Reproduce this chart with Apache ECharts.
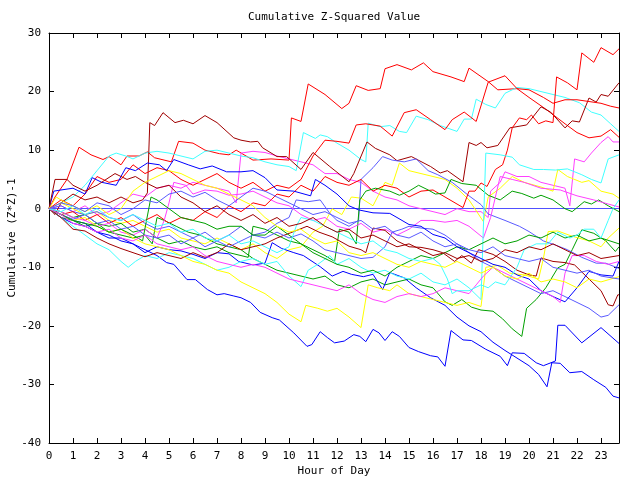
<!DOCTYPE html>
<html><head><meta charset="utf-8">
<script src="https://cdn.jsdelivr.net/npm/echarts@6/dist/echarts.min.js"></script>
<style>html,body{margin:0;padding:0;background:#fff}#c{width:640px;height:480px}</style>
</head><body><div id="c"></div>
<script>
// Hour of day (x) vs cumulative (Z*Z)-1 (y), vertices
const hourLabels = [0,1,2,3,4,5,6,7,8,9,10,11,12,13,14,15,16,17,18,19,20,21,22,23];
const yTickValues = [-40,-30,-20,-10,0,10,20,30];

const r1 = [[0,0],[0.25,2],[0.75,5],[1.25,10.5],[1.75,9.2],[2.25,8.4],[2.5,8.9],[3,7.5],[3.25,9],[3.75,9],[4.1,9.7],[4.4,8.7],[5.1,8],[5.4,11.5],[6,11.2],[6.5,10],[7.1,9.4],[7.5,9.2],[7.8,10],[8.5,8.3],[9.25,8.5],[10,8.3],[10.1,15.5],[10.5,14.9],[10.8,21.3],[11.5,19.5],[12.2,17.1],[12.5,18],[12.8,21],[13.3,20.2],[13.8,20.5],[14,23.9],[14.5,24.6],[15.1,23.7],[15.6,24.9],[16,23.4],[16.75,22.5],[17.3,21.7],[17.5,24],[18.3,21.7],[18.7,20.3],[19.5,20.5],[20,19],[20.7,17],[21.5,14.5],[22,13],[22.5,12.1],[23,12.4],[23.4,13.5],[23.75,12.2]];
const r2 = [[0,0],[0.5,-1],[1,-0.5],[1.5,-2],[2,-1],[2.5,-2.5],[3,-1.5],[3.5,-3],[4,-2],[4.5,-1],[5,-2.5],[5.5,-1.5],[6,-2],[6.5,-0.5],[7,-1.5],[7.5,0.5],[8,-0.5],[8.5,1],[9,0.5],[9.5,2.5],[10,2],[10.5,4],[11,3],[11.5,5.5],[12,4.5],[12.5,4],[13,5],[13.5,3],[14,4],[14.5,3.5],[15,2],[15.5,3],[16,3.2],[16.5,2],[17,0.8],[17.25,0.2],[17.5,3],[17.75,3],[18,4.4],[18.25,3.8],[18.6,6.7],[18.9,7.5],[19.1,10],[19.3,13.8],[19.6,15.5],[19.9,15.2],[20.1,16],[20.4,14.5],[20.7,15],[21,14.7],[21.15,22.5],[21.6,21.5],[22,20.3],[22.2,26.6],[22.7,25],[23,27.5],[23.5,26.3],[23.75,27.3]];
const r3 = [[0,0],[0.5,1.5],[1,0.5],[1.5,2.5],[2,5.5],[2.5,4.5],[3,5],[3.5,7.5],[4,6],[4.5,7],[5,6.5],[5.5,5],[6,4],[6.5,5],[7,6],[7.5,4.5],[8,3.5],[8.5,4.5],[9,3],[9.5,4],[10,3.5],[10.5,5],[11,9],[11.5,11.7],[12,11.5],[12.5,11.2],[12.8,14.3],[13.2,14.5],[13.8,14.1],[14.3,12.4],[14.8,16.4],[15.3,16.9],[15.9,15.2],[16.5,13.5],[16.8,15.2],[17.3,16.5],[17.8,14.9],[18.3,21.6],[19,22.7],[19.5,20.5],[20,20.3],[20.6,19],[21,18],[21.5,18.6],[22,18.6],[22.5,18.3],[23,18],[23.4,17.5],[23.75,17.2]];
const d1 = [[0,0],[0.25,-1],[0.5,1],[1,2.5],[1.5,1.5],[2,2],[2.5,1],[3,2],[3.5,1],[3.9,1.5],[4.1,2.7],[4.2,14.7],[4.4,14.2],[4.75,16.4],[5.25,14.7],[5.6,15.1],[6,14.5],[6.5,15.9],[7,14.7],[7.7,12.1],[8,11.7],[8.4,11.4],[8.7,11.5],[8.9,10.4],[9.5,8.9],[9.9,8.9],[10.5,6.7],[11,9.6],[11.7,7.2],[12.5,4.6],[12.7,6],[13.25,11.4],[13.6,10.3],[14.2,9.2],[14.5,8.2],[15.1,8.9],[15.9,7.2],[16.3,6.1],[16.6,6.5],[17.25,4.6],[17.5,11.3],[17.8,10.8],[18,11.3],[18.25,10.4],[18.7,10.8],[19.2,13.8],[19.9,14.3],[20.5,17.4],[20.9,16.5],[21.5,13.8],[21.8,15],[22.1,14.8],[22.5,18.9],[22.8,18.2],[23,19.5],[23.3,19.2],[23.75,21.5]];
const d2 = [[0,0],[0.5,-1.5],[1,-3.5],[1.5,-3.8],[2,-5],[2.5,-6],[3,-6.8],[3.5,-7.5],[4,-8.2],[4.5,-7.5],[5,-8],[5.5,-8.5],[6,-7.5],[6.5,-8.3],[7,-7.5],[7.5,-6],[8,-7],[8.5,-6.5],[9,-6],[9.5,-5],[10.2,-3.9],[10.75,-3],[11.25,-4],[11.8,-4.8],[12.5,-6.4],[13,-7],[13.2,-7.5],[13.5,-3.3],[14,-3.7],[14.5,-5.5],[15,-6.5],[15.5,-6.6],[16,-7],[16.4,-7.5],[16.9,-9],[17.2,-8],[17.6,-9.3],[17.9,-7],[18.5,-7.8],[19,-9],[19.5,-10.5],[20,-11.3],[20.3,-11.5],[20.5,-8.4],[21,-9],[21.5,-9.2],[21.9,-9.6],[22.5,-12],[23,-14],[23.3,-16.4],[23.5,-16.6],[23.7,-14.7],[23.75,-14.7]];
const d3 = [[0,0],[0.25,5],[0.75,5],[1,4],[1.5,3],[2,4],[2.75,6],[3.25,5],[3.6,5.5],[4,4.5],[4.5,3.5],[5,4],[5.5,2],[6,1],[6.5,-0.5],[7,0.5],[7.5,-1],[8,-2],[8.5,-1],[9,-2.5],[9.5,-1.5],[10,-3],[10.5,-2.5],[11,-1.5],[11.5,-3],[12,-4],[12.5,-3.5],[13,-5],[13.5,-4.5],[14,-5.5],[14.5,-6.5],[15,-6],[15.5,-7],[16,-8],[16.5,-7.5],[17,-8.5],[17.5,-8],[18,-9],[18.5,-8.5],[19,-7],[19.5,-7.5],[20,-6.5],[20.5,-7],[21,-6],[21.5,-7],[22,-8],[22.5,-7.5],[23,-8.5],[23.75,-8]];
const b1 = [[0,0],[0.5,-1.5],[1,-2.5],[1.5,-3],[2,-4],[2.5,-4.5],[3,-5.5],[3.5,-6],[4,-7],[4.5,-8],[4.9,-9.2],[5.2,-9.5],[5.75,-12.1],[6.1,-12.1],[6.6,-13.8],[7,-14.7],[7.3,-14.5],[7.7,-14.9],[8,-15.2],[8.4,-16],[8.8,-17.7],[9.3,-18.6],[9.6,-19],[10.2,-21.2],[10.75,-23.5],[10.95,-23.2],[11.3,-21],[11.6,-22],[11.9,-22.9],[12.3,-22.6],[12.7,-21.5],[12.95,-21.8],[13.2,-22.7],[13.5,-20.6],[13.75,-21.2],[14,-22.5],[14.3,-21],[14.6,-21.8],[15,-23.7],[15.4,-24.4],[15.9,-25.1],[16.2,-25.3],[16.5,-26.9],[16.75,-20.8],[17.25,-22.4],[17.6,-22.5],[18.2,-24],[18.8,-25.2],[19.1,-26.8],[19.3,-24.6],[19.8,-24.7],[20.3,-26.3],[20.6,-26.8],[21.1,-26],[21.2,-19.9],[21.5,-19.9],[22.2,-22.9],[23,-20.3],[23.75,-23]];
const b2 = [[0,0],[0.5,-1],[1,-2],[1.5,-2.5],[2,-4],[2.5,-5],[3,-5],[3.5,-6],[4,-7.5],[4.5,-6.5],[5,-7],[5.5,-7.2],[6,-7.8],[6.5,-8.5],[7,-7.5],[7.5,-7.7],[7.9,-9],[8.5,-9.6],[9,-9.3],[9.3,-5.8],[9.7,-6.8],[10.2,-7.5],[10.6,-8],[11.3,-9.9],[11.8,-11.5],[12.25,-10.7],[12.6,-11.2],[13.1,-11.6],[13.5,-11.2],[13.9,-13.8],[14.2,-10.9],[14.8,-11.8],[15.3,-13.5],[15.9,-15.2],[16.5,-16.5],[17,-18.5],[17.5,-20],[18,-21],[18.5,-22.8],[19,-24.2],[19.5,-25.5],[20,-26.8],[20.4,-28.3],[20.75,-30.4],[20.95,-26.3],[21.3,-26.4],[21.7,-28],[22.2,-27.8],[22.7,-29.2],[23.2,-30.5],[23.5,-32],[23.75,-32.3]];
const b3 = [[0,0],[0.2,3],[0.5,3.2],[1,3.5],[1.5,2.5],[1.8,5.3],[2.2,4.5],[2.8,4],[3.2,7],[3.6,6.5],[4.1,7.8],[4.6,7.5],[4.9,6.5],[5.2,8.4],[5.8,7.5],[6.3,6.8],[6.8,7.3],[7.4,6.3],[8,6.3],[8.5,6.5],[9,5.3],[9.5,3.2],[10.2,3],[10.9,2.2],[11.1,5],[11.5,4],[12,2.5],[12.5,0.5],[12.9,-0.2],[13.5,-0.7],[14.2,-0.8],[14.5,-1.5],[15,-2.7],[15.5,-3],[16,-4.4],[16.5,-5],[17,-6.5],[17.5,-7.5],[18,-8.5],[18.5,-9.5],[19,-10],[19.5,-11.3],[20,-12],[20.5,-14],[21,-15],[21.5,-15.9],[22,-13.5],[22.5,-10.7],[23,-11.3],[23.5,-11.5],[23.75,-9]];
const p1 = [[0,0],[0.5,0.5],[1,-0.5],[1.5,-1],[2,-0.5],[2.5,-1.5],[3,-2],[3.5,-1],[4,-2.5],[4.5,-3.5],[5,-3],[5.5,-4],[6,-5],[6.5,-4],[7,-5.5],[7.5,-4.5],[8,-3],[8.5,-4.5],[9,-4],[9.5,-2.5],[10,-1.5],[10.3,1.5],[10.8,1.2],[11.3,1.5],[11.7,-0.8],[12,-2],[12.5,-3],[12.9,-2],[13,5],[13.5,7],[13.9,8.9],[14.3,8.3],[14.8,8],[15.3,8.5],[15.8,6.5],[16.2,5.8],[16.8,4.5],[17.5,2.2],[18,0.7],[18.3,-0.9],[19,-2],[19.6,-3],[20,-3.9],[20.6,-5.5],[21.1,-6.2],[21.6,-7],[22.2,-8.3],[22.8,-9.3],[23.2,-9.3],[23.75,-10.2]];
const p2 = [[0,0],[0.5,-1],[1,-1.8],[1.5,-1],[2,-2.5],[2.5,-2],[3,-3.5],[3.5,-3],[4,-4.5],[4.5,-5],[5,-4.5],[5.5,-6],[6,-5],[6.5,-6.5],[7,-5.5],[7.5,-6.5],[8,-5.5],[8.5,-4.5],[9,-5],[9.5,-4],[10,-5],[10.5,-4.3],[11,-5.5],[11.5,-7],[12,-7.5],[12.5,-8],[13,-8.5],[13.5,-8.3],[14,-6.5],[14.3,-4],[14.7,-3.5],[15,-3],[15.5,-3.3],[16,-3.5],[16.5,-4.5],[17,-6],[17.5,-7.5],[18,-9],[18.5,-10],[19,-11.5],[19.5,-12.5],[20,-13.5],[20.5,-14.5],[21,-14],[21.5,-15],[22,-16],[22.5,-17],[23,-18.5],[23.3,-18.2],[23.75,-16.4]];
const p3 = [[0,0],[0.5,1],[1,0.5],[1.5,-0.5],[2,1],[2.5,0.5],[3,-1],[3.5,0],[4,1.5],[4.5,1],[5,2.5],[5.5,3],[6,2],[6.5,2.8],[7,1.5],[7.5,0.5],[8,2],[8.5,3.5],[9,3],[9.5,2],[10,1],[10.5,0],[11,-1],[11.5,-0.5],[12,-1.5],[12.5,-2.5],[13,-2],[13.5,-3.5],[14,-3],[14.5,-4.5],[15,-5],[15.5,-4],[16,-5.5],[16.5,-6.5],[17,-6],[17.5,-7],[18,-7.5],[18.5,-6.5],[19,-8],[19.5,-8.5],[20,-9],[20.5,-8.5],[21,-10],[21.5,-10.5],[22,-11],[22.5,-10.5],[23,-11.5],[23.75,-12]];
const g1 = [[0,0],[0.5,-1.5],[1,-2],[1.5,-3],[2,-2.5],[2.5,-4],[3,-4.5],[3.5,-5],[4,-4.5],[4.3,-6],[4.5,-1.5],[4.8,-2],[5.3,-3],[5.8,-4],[6.3,-4.5],[7,-6],[7.5,-6.5],[8,-7],[8.5,-8.5],[9,-9.5],[9.5,-10.5],[10,-11],[10.5,-11.5],[11,-12],[11.5,-11.5],[12,-13],[12.5,-13.5],[13,-12.5],[13.5,-12],[14,-13],[14.5,-12.5],[15,-12],[15.5,-13],[16,-13.5],[16.5,-15.9],[16.8,-16.5],[17.2,-15.5],[17.6,-16.8],[18,-17.3],[18.5,-17.5],[18.9,-18.8],[19.3,-20.5],[19.7,-21.8],[19.9,-17],[20.3,-15.5],[20.7,-13.5],[21.2,-10.1],[21.5,-9.5],[21.8,-7],[22.2,-3.6],[22.7,-4.2],[23.2,-5.5],[23.6,-7.3],[23.75,-6.5]];
const g2 = [[0,0],[0.5,-0.5],[1,-1.5],[1.5,-1],[2,-2.5],[2.5,-3],[3,-2.5],[3.5,-4],[4,-3.5],[4.5,-5],[5,-6],[5.5,-5.5],[6,-6.5],[6.5,-7],[7,-6.5],[7.5,-7.5],[8,-8],[8.3,-8.3],[8.5,-3],[9,-3.5],[9.5,-4.5],[10,-5.5],[10.5,-6],[11,-7],[11.5,-8],[11.9,-9],[12.1,-3.5],[12.5,-4],[12.8,-6],[12.95,1.5],[13.2,3],[13.6,3.5],[14.2,3],[14.6,2.3],[15,3],[15.4,4],[15.8,3.2],[16.1,2.5],[16.5,2.7],[16.75,5],[17.2,4.3],[17.8,4],[18.3,2.3],[18.8,1.5],[19.3,3],[19.7,2.6],[20.2,1.8],[20.5,2.3],[21,1.5],[21.5,0],[21.8,-0.5],[22.3,1.2],[22.6,0.8],[22.9,1.5],[23.3,0.5],[23.75,-0.5]];
const g3 = [[0,0],[0.5,-1],[1,-2],[1.5,-2.5],[2,-3],[2.5,-4],[3,-3.5],[3.5,-4.5],[3.9,-5.5],[4.25,2],[4.5,1.5],[5,0],[5.5,-1.5],[6,-2],[6.5,-2.5],[7,-3.5],[7.5,-3],[8,-3],[8.5,-4.5],[9,-4.5],[9.5,-3],[10,-4.5],[10.5,-6],[11,-7.5],[11.5,-8.5],[12,-9.5],[12.5,-10],[13,-11],[13.5,-10.5],[14,-11.5],[14.5,-10],[15,-9],[15.5,-8],[16,-8.5],[16.5,-7.5],[17,-6.5],[17.5,-7],[18,-6],[18.5,-5],[19,-6],[19.5,-5.5],[20,-4.5],[20.5,-5],[21,-4],[21.5,-5],[22,-4.5],[22.5,-5.5],[23,-5],[23.75,-6]];
const y1 = [[0,0],[0.5,1],[1,0],[1.5,-1],[2,-0.5],[2.5,-2],[3,-2.5],[3.5,-2],[4,-3],[4.5,-4],[5,-3.5],[5.5,-5],[6,-5.5],[6.5,-6],[7,-5],[7.5,-6],[8,-7],[8.5,-6],[9,-7.5],[9.5,-8.5],[10,-7],[10.5,-6.5],[11,-4],[11.4,-3],[11.8,0],[12.2,-1],[12.6,2],[13,1.8],[13.5,0.5],[14,4.5],[14.3,4],[14.6,7.8],[15,6.5],[15.5,6],[16,5.5],[16.5,5],[17,3.5],[17.5,1.5],[18.1,-2.2],[18.3,2],[18.8,3.5],[19.3,5.5],[19.8,4.5],[20.5,3.7],[21,3],[21.2,6.7],[21.6,5.5],[22.2,4.5],[22.5,4.8],[23,3],[23.5,2.5],[23.75,1.8]];
const y2 = [[0,0],[0.5,-1],[1,-2],[1.5,-1.5],[2,-3],[2.5,-4],[3,-3.5],[3.5,-5],[4,-6],[4.5,-6.5],[5,-7],[5.5,-8],[6,-9],[6.5,-9.5],[7,-10.5],[7.5,-11],[8,-12.5],[8.5,-13.5],[9,-14.5],[9.5,-16],[10,-18],[10.5,-19.3],[10.7,-16.5],[11.2,-17],[11.6,-17.5],[12,-17],[12.5,-18.5],[13,-20.3],[13.3,-13],[13.7,-13.5],[14.2,-14],[14.5,-13],[15,-14.5],[15.5,-15],[16,-15.5],[16.5,-16],[17,-16.5],[17.5,-16],[18,-16.7],[18.2,-10],[18.7,-9.7],[19.2,-11],[19.8,-11.3],[20.4,-12],[20.6,-8.5],[20.8,-3.9],[21.2,-3.8],[21.8,-4.7],[22.5,-5.5],[23,-6.5],[23.3,-5],[23.75,-3.3]];
const y3 = [[0,0],[0.3,2],[0.7,1],[1,0.5],[1.5,-0.5],[2,0.5],[2.5,-1],[3,0],[3.5,3],[4,4.5],[4.5,5.5],[5,6.5],[5.5,6],[6,5],[6.5,4],[7,3.5],[7.5,2.5],[8,1.5],[8.5,0.5],[9,-1.5],[9.5,-3],[10,-4],[10.5,-3.5],[11,-5],[11.5,-6],[12,-5.5],[12.5,-7.5],[13,-8],[13.5,-7.5],[14,-8.5],[14.5,-9.5],[15,-10],[15.5,-9],[16,-9.5],[16.5,-10],[17,-9],[17.5,-10],[18,-11],[18.5,-10],[19,-11.5],[19.5,-12],[20,-11],[20.5,-12.5],[21,-12],[21.5,-12.5],[22,-13.5],[22.5,-12],[23,-12.5],[23.75,-11.6]];
const m1 = [[0,0],[0.5,0.5],[1,-0.5],[1.5,0.5],[2,-1],[2.5,-0.5],[3,1],[3.5,2.5],[4,2],[4.5,3.5],[5,4],[5.5,3.5],[6,4.5],[6.5,4],[7,3.5],[7.5,3],[7.8,1],[8,9.5],[8.5,9.8],[9,9.6],[9.5,9],[10,8.5],[10.5,8],[11,7.5],[11.5,6],[12,6],[12.5,5],[13,4.5],[13.5,3],[14,2],[14.5,1.5],[15,0.5],[15.5,0],[16,-0.5],[16.5,-1],[17,0],[17.5,-0.5],[18,-0.5],[18.3,-1.5],[18.4,3],[18.8,4.5],[19,6.3],[19.5,5.5],[20,5.5],[20.5,4.5],[21,4],[21.5,3.5],[21.7,0.5],[21.9,8.5],[22.3,8],[22.6,9.5],[23,11.3],[23.3,12.3],[23.5,11.4],[23.75,11.4]];
const m2 = [[0,0],[0.5,-0.5],[1,-1.5],[1.5,-2],[2,-3],[2.5,-2.5],[3,-4],[3.5,-4.5],[4,-3.5],[4.5,-5],[4.8,-2],[5,1],[5.2,4.5],[5.7,4],[6,2.5],[6.5,3.2],[7,3],[7.5,2.3],[8,2.5],[8.5,3],[9,2],[9.5,1],[10,0.5],[10.5,-1],[11,-2],[11.5,-1.5],[12,-3],[12.5,-3.5],[13,-2.5],[13.5,-4],[14,-3.5],[14.5,-4.5],[15,-3.5],[15.5,-2],[16,-2],[16.5,-2.3],[17,-2],[17.5,-3],[18.1,-5],[18.4,-1.5],[18.8,5.5],[19.3,5],[19.8,4.5],[20.5,3.5],[21.3,3.2],[22,2.2],[22.7,1.5],[23.3,0.8],[23.75,0.3]];
const m3 = [[0,0],[0.5,-1],[1,-2.5],[1.5,-3],[2,-4],[2.5,-3.5],[3,-5],[3.5,-5.5],[4,-4.5],[4.5,-6],[5,-6.5],[5.5,-7],[6,-6.5],[6.5,-8],[7,-9],[7.5,-9.5],[8,-10],[8.5,-9.5],[9,-10],[9.5,-11],[10,-12],[10.5,-12.5],[11,-13],[11.5,-13.5],[12,-14],[12.5,-13],[13,-14.5],[13.5,-15.5],[14,-16],[14.5,-15],[15,-14.5],[15.5,-15],[16,-14.5],[16.5,-13.5],[17,-14],[17.5,-14.5],[17.8,-13],[18.1,-11.5],[18.5,-10],[19,-11],[19.5,-12],[20,-13],[20.5,-14],[21,-15],[21.3,-16],[21.5,-11],[21.8,-8],[22.3,-8],[22.8,-9],[23.3,-9.5],[23.75,-9]];
const c1 = [[0,0],[0.5,1],[1,2],[1.5,4],[2,6.5],[2.5,9],[2.8,9.5],[3.2,9],[3.5,8.5],[4,9.5],[4.5,9.8],[5,9.5],[5.5,9],[6,8.5],[6.5,9.8],[7,10],[7.5,9.5],[8,9],[8.5,8.7],[9,8],[9.5,7.5],[10,7.2],[10.3,6.5],[10.6,13],[11.1,12],[11.3,12.6],[11.6,12.3],[12,11.2],[12.5,10],[13,8.4],[13.2,8],[13.3,14.6],[13.8,14],[14.2,14.2],[14.6,13.2],[14.9,13],[15.3,15.8],[15.8,15.2],[16.3,14.2],[17,13.2],[17.3,15.3],[17.6,15.3],[17.8,18.7],[18.2,17.8],[18.6,17.2],[19,19.7],[19.5,20.7],[20,20.5],[20.5,20],[21,19.5],[21.5,19],[22.1,18.1],[22.6,16.5],[23,16],[23.4,14.5],[23.75,13.2]];
const c2 = [[0,0],[0.5,-1.5],[1,-3],[1.5,-4.5],[2,-6],[2.5,-7],[3,-9],[3.3,-10],[3.6,-9],[4,-8],[4.5,-8.5],[5,-7.5],[5.5,-8],[6,-8.5],[6.5,-9.5],[7,-10.5],[7.5,-10],[8,-9],[8.5,-8.5],[9,-9.5],[9.5,-9],[10,-11.5],[10.5,-13.3],[10.8,-10.5],[11.2,-9.5],[11.7,-8],[12,-9.5],[12.5,-8.5],[13,-10],[13.5,-11],[14,-10.5],[14.5,-11.5],[15,-12],[15.5,-11],[16,-12.5],[16.5,-13],[17,-12],[17.5,-13.5],[18,-15.5],[18.2,9.5],[18.8,9.2],[19.3,8.8],[19.6,7.5],[20.2,6.7],[20.6,6.7],[21.1,6.6],[21.6,6.8],[22.2,5.8],[22.6,5],[23,4.4],[23.3,8.5],[23.75,9.2]];
const c3 = [[0,0],[0.5,-0.5],[1,0.5],[1.5,-1],[2,0],[2.5,-1.5],[3,-2],[3.5,-1],[4,-2],[4.5,-3],[5,-2.5],[5.5,-4],[6,-3.5],[6.5,-5],[7,-5.5],[7.5,-4.5],[8,-6],[8.5,-5.5],[9,-6.5],[9.5,-7.5],[10,-6.5],[10.3,-3],[10.5,-1.5],[11,-2],[11.5,-3],[12,-4],[12.5,-5],[13,-6],[13.5,-5.5],[14,-7],[14.5,-7.5],[15,-8.5],[15.5,-9],[16,-8.5],[16.3,-9.5],[16.6,-12],[16.8,-14.5],[17,-14],[17.5,-14],[18,-13],[18.3,-13.5],[18.6,-12.5],[19,-13],[19.5,-10],[19.8,-7],[20.3,-6],[20.8,-6],[21.2,-4],[21.7,-5],[22,-4.5],[22.3,-3.5],[22.7,-3.5],[23,-5],[23.3,-2],[23.5,0],[23.75,1.5]];

const lines = [
  {data: r1, color: '#ff0000'}, {data: g1, color: '#00a000'}, {data: b1, color: '#0000ff'},
  {data: m1, color: '#ff40ff'}, {data: c1, color: '#40ffff'}, {data: d1, color: '#a00000'},
  {data: y1, color: '#ffff00'}, {data: p1, color: '#5a5aff'},
  {data: r2, color: '#ff0000'}, {data: g2, color: '#00a000'}, {data: b2, color: '#0000ff'},
  {data: m2, color: '#ff40ff'}, {data: c2, color: '#40ffff'}, {data: d2, color: '#a00000'},
  {data: y2, color: '#ffff00'}, {data: p2, color: '#5a5aff'},
  {data: r3, color: '#ff0000'}, {data: g3, color: '#00a000'}, {data: b3, color: '#0000ff'},
  {data: m3, color: '#ff40ff'}, {data: c3, color: '#40ffff'}, {data: d3, color: '#a00000'},
  {data: y3, color: '#ffff00'}, {data: p3, color: '#5a5aff'}
];

const FONT = 'DejaVu Sans Mono';
const chart = echarts.init(document.getElementById('c'), null, {renderer: 'canvas'});

const series = lines.map((l, i) => ({
  type: 'line', data: l.data, symbol: 'none', silent: true,
  xAxisIndex: 0, yAxisIndex: 0,
  lineStyle: {color: l.color, width: 1}, itemStyle: {color: l.color},
  z: 2 + i,
  markLine: i === 0 ? {
    silent: true, symbol: 'none', label: {show: false},
    lineStyle: {color: '#5050ff', width: 1, type: 'solid'},
    data: [{yAxis: 0}]
  } : undefined
}));

const axisBase = {
  type: 'value', splitLine: {show: false},
  axisLine: {show: true, onZero: false, lineStyle: {color: '#000', width: 1}},
  axisTick: {show: true, inside: true, length: 5, lineStyle: {color: '#000'}}
};

chart.setOption({
  animation: false,
  backgroundColor: '#fff',
  title: {
    text: 'Cumulative Z-Squared Value', left: 243, top: 7,
    textStyle: {fontFamily: FONT, fontSize: 11, fontWeight: 'normal', color: '#000'}
  },
  grid: {left: 49, right: 21, top: 33, bottom: 37, containLabel: false, outerBoundsMode: 'none'},
  xAxis: [
    Object.assign({}, axisBase, {
      position: 'bottom', min: 0, max: 23.75, interval: 1,
      name: 'Hour of Day', nameLocation: 'middle', nameGap: 23, nameMoveOverlap: false,
      nameTextStyle: {fontFamily: FONT, fontSize: 11, color: '#000'},
      axisLabel: {
        fontFamily: FONT, fontSize: 11, color: '#000', margin: 8,
        showMaxLabel: false,
        formatter: v => hourLabels.includes(v) ? String(v) : ''
      }
    }),
    Object.assign({}, axisBase, {
      position: 'top', min: 0, max: 23.75, interval: 1, axisLabel: {show: false}
    })
  ],
  yAxis: [
    Object.assign({}, axisBase, {
      position: 'left', min: -40, max: 30, interval: 10,
      name: 'Cumulative (Z*Z)-1', nameLocation: 'middle', nameGap: 31, nameMoveOverlap: false,
      nameTextStyle: {fontFamily: FONT, fontSize: 11, color: '#000'},
      axisLabel: {
        fontFamily: FONT, fontSize: 11, color: '#000', margin: 8,
        formatter: v => yTickValues.includes(v) ? String(v) : ''
      }
    }),
    Object.assign({}, axisBase, {
      position: 'right', min: -40, max: 30, interval: 10, axisLabel: {show: false}
    })
  ],
  series: series
});
</script>
</body></html>
